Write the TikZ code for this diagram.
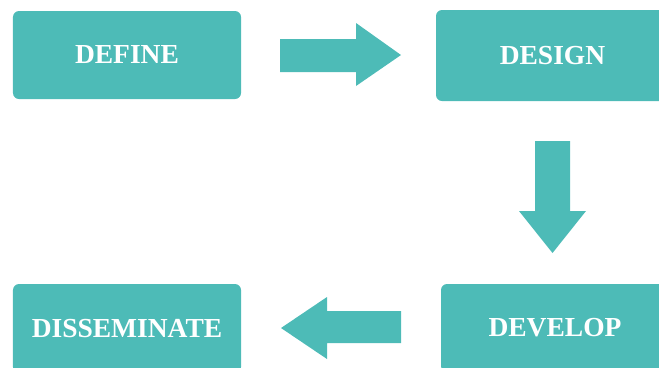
\documentclass[tikz,border=0pt]{standalone}
\usepackage{fontspec}
\setmainfont{Liberation Serif}
\usetikzlibrary{positioning}
\definecolor{stageteal}{HTML}{4DBBB7}
\tikzset{
  stage/.style={fill=stageteal, rounded corners=6bp, text=white, font=\bfseries\fontsize{27.6}{30}\selectfont, inner sep=0pt},
  blockarr/.style={fill=stageteal},
}
\begin{document}
\begin{tikzpicture}[x=1bp,y=-1bp]
  \useasboundingbox (0,0) rectangle (659,367);
  % stages
  \node[stage, minimum width=228bp, minimum height=88bp] (define) at (127,55) {DEFINE};
  \node[stage, minimum width=233bp, minimum height=91bp] (design) at (552.5,55.5) {DESIGN};
  \node[stage, minimum width=228bp, minimum height=89bp] (disseminate) at (127,328.5) {DISSEMINATE};
  \node[stage, minimum width=228bp, minimum height=88bp] (develop) at (555,328) {DEVELOP};
  % block arrows between stages
  \fill[blockarr] (280,39) -- (356,39) -- (356,23) -- (401,55) -- (356,86) -- (356,72) -- (280,72) -- cycle;
  \fill[blockarr] (535,141) -- (570,141) -- (570,211) -- (586,211) -- (552.5,253) -- (519,211) -- (535,211) -- cycle;
  \fill[blockarr] (401,311) -- (327,311) -- (327,297) -- (281,328) -- (327,359) -- (327,343) -- (401,343) -- cycle;
\end{tikzpicture}
\end{document}
